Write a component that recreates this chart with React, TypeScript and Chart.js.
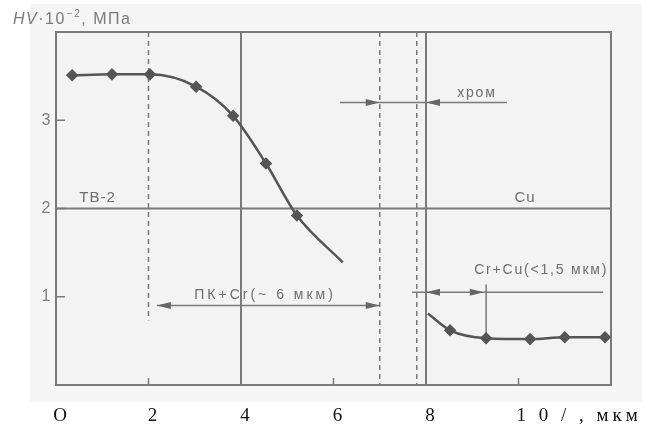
import React, { useEffect, useRef } from "react";
import { Chart, registerables } from "chart.js";

Chart.register(...registerables);

// ---- data ----
const leftDepth = [0.35, 1.21, 2.03, 3.03, 3.83, 4.54, 5.21, 6.2];
const leftHardness = [3.51, 3.52, 3.52, 3.38, 3.05, 2.51, 1.92, 1.39];
const rightDepth = [8.04, 8.52, 9.3, 10.25, 11.0, 11.87];
const rightHardness = [0.81, 0.62, 0.53, 0.52, 0.54, 0.54];

const xTickValues = [0, 2, 4, 6, 8, 10];
const xTickLabels = ["O", "2", "4", "6", "8", "1 0 / , мкм"];
const yTickValues = [3, 2, 1];
const yTickLabels = ["3", "2", "1"];

const solidXLines = [4, 8];
const solidYLines = [2];
const dashedXLines = [7.0, 7.8];
const dashedShortX = 2;
const dashedShortBottom = 0.73;

const regionLabels = ["ТВ-2", "Cu"];
const regionLabelX = [0.9, 10.14];
const regionLabelY = 2.12;

const chromeText = "хром";
const chromeLine = [6.14, 9.75, 3.2];
const chromeTips = [7.0, 8.0];
const chromeTextPos = [9.1, 3.31];

const pkText = "ПК+Cr(~ 6 мкм)";
const pkLine = [2.18, 7.0, 0.9];
const pkTextPos = [4.52, 1.02];

const crcuText = "Cr+Cu(<1,5 мкм)";
const crcuLine = [7.7, 11.83, 1.05];
const crcuTips = [8.0, 9.25];
const crcuMarkX = 9.3;
const crcuMarkTop = 1.14;
const crcuTextPos = [10.49, 1.3];

const GRID = "#7a7a7a";
const TEXT = "#6e6e6e";
const CURVE = "#555555";
const SANS = "'Liberation Sans', Arial, sans-serif";

function arrowHead(ctx: CanvasRenderingContext2D, tipX: number, y: number, dir: number) {
  const len = 14;
  const half = 3.5;
  ctx.beginPath();
  ctx.moveTo(tipX, y);
  ctx.lineTo(tipX - dir * len, y - half);
  ctx.lineTo(tipX - dir * len, y + half);
  ctx.closePath();
  ctx.fill();
}

function spaced(ctx: any, text: string, x: number, y: number, spacing: number) {
  ctx.letterSpacing = spacing + "px";
  ctx.fillText(text, x, y);
  ctx.letterSpacing = "0px";
}

const decor = {
  id: "decor",
  beforeDraw(chart: any) {
    const { ctx, chartArea: a, scales } = chart;
    const xs = scales.x;
    const ys = scales.y;
    const px = (v: number) => xs.getPixelForValue(v);
    const py = (v: number) => ys.getPixelForValue(v);
    ctx.save();
    ctx.fillStyle = "#ffffff";
    ctx.fillRect(0, 0, chart.width, chart.height);
    ctx.fillStyle = "#f5f5f5";
    ctx.fillRect(30, 4, 612, 398);
    ctx.fillStyle = "#f3f3f3";
    ctx.fillRect(a.left, a.top, a.right - a.left, a.bottom - a.top);

    // solid grid lines
    ctx.strokeStyle = GRID;
    ctx.lineWidth = 2;
    solidXLines.forEach((v) => {
      ctx.beginPath();
      ctx.moveTo(px(v), a.top);
      ctx.lineTo(px(v), a.bottom);
      ctx.stroke();
    });
    solidYLines.forEach((v) => {
      ctx.beginPath();
      ctx.moveTo(a.left, py(v));
      ctx.lineTo(a.right, py(v));
      ctx.stroke();
    });

    // dashed lines
    ctx.lineWidth = 1.5;
    ctx.setLineDash([5, 4]);
    dashedXLines.forEach((v) => {
      ctx.beginPath();
      ctx.moveTo(px(v), a.top);
      ctx.lineTo(px(v), a.bottom);
      ctx.stroke();
    });
    ctx.beginPath();
    ctx.moveTo(px(dashedShortX), a.top);
    ctx.lineTo(px(dashedShortX), py(dashedShortBottom));
    ctx.stroke();
    ctx.setLineDash([]);

    // frame
    ctx.lineWidth = 2;
    ctx.strokeRect(a.left, a.top, a.right - a.left, a.bottom - a.top);

    // y inner ticks
    ctx.lineWidth = 1.5;
    yTickValues.forEach((v) => {
      ctx.beginPath();
      ctx.moveTo(a.left, py(v));
      ctx.lineTo(a.left + 9, py(v));
      ctx.stroke();
    });
    // x inner ticks
    [2, 6, 10].forEach((v) => {
      ctx.beginPath();
      ctx.moveTo(px(v), a.bottom);
      ctx.lineTo(px(v), a.bottom - 7);
      ctx.stroke();
    });

    // annotation arrows
    ctx.strokeStyle = GRID;
    ctx.fillStyle = "#666";
    ctx.lineWidth = 1.5;
    let y = py(chromeLine[2]);
    ctx.beginPath();
    ctx.moveTo(px(chromeLine[0]), y);
    ctx.lineTo(px(chromeLine[1]), y);
    ctx.stroke();
    arrowHead(ctx, px(chromeTips[0]), y, 1);
    arrowHead(ctx, px(chromeTips[1]), y, -1);
    y = py(pkLine[2]);
    ctx.beginPath();
    ctx.moveTo(px(pkLine[0]), y);
    ctx.lineTo(px(pkLine[1]), y);
    ctx.stroke();
    arrowHead(ctx, px(pkLine[0]), y, -1);
    arrowHead(ctx, px(pkLine[1]), y, 1);
    y = py(crcuLine[2]);
    ctx.beginPath();
    ctx.moveTo(px(crcuLine[0]), y);
    ctx.lineTo(px(crcuLine[1]), y);
    ctx.stroke();
    arrowHead(ctx, px(crcuTips[0]), y, -1);
    arrowHead(ctx, px(crcuTips[1]), y, 1);
    ctx.beginPath();
    ctx.moveTo(px(crcuMarkX), py(crcuMarkTop));
    ctx.lineTo(px(crcuMarkX), py(rightHardness[2]));
    ctx.stroke();
    ctx.restore();
  },
  afterDraw(chart: any) {
    const { ctx, chartArea: a, scales } = chart;
    const px = (v: number) => scales.x.getPixelForValue(v);
    const py = (v: number) => scales.y.getPixelForValue(v);
    ctx.save();
    ctx.fillStyle = TEXT;
    ctx.textBaseline = "middle";
    ctx.textAlign = "center";
    ctx.font = "14px " + SANS;
    spaced(ctx, chromeText, px(chromeTextPos[0]), py(chromeTextPos[1]), 1.8);
    spaced(ctx, pkText, px(pkTextPos[0]), py(pkTextPos[1]), 3);
    spaced(ctx, crcuText, px(crcuTextPos[0]), py(crcuTextPos[1]), 1.8);
    ctx.font = "15px " + SANS;
    regionLabels.forEach((t, i) => spaced(ctx, t, px(regionLabelX[i]), py(regionLabelY), 1));

    // y tick labels
    ctx.font = "16px " + SANS;
    ctx.fillStyle = "#808080";
    yTickValues.forEach((v, i) => ctx.fillText(yTickLabels[i], a.left - 10, py(v)));

    // y title
    ctx.textAlign = "left";
    ctx.textBaseline = "alphabetic";
    ctx.fillStyle = "#7a7a7a";
    let x = 13;
    const by = 24;
    ctx.letterSpacing = "1.5px";
    ctx.font = "italic 16px " + SANS;
    ctx.fillText("HV", x, by);
    x += ctx.measureText("HV").width;
    ctx.font = "16px " + SANS;
    ctx.fillText("·10", x, by);
    x += ctx.measureText("·10").width + 1;
    ctx.font = "10px " + SANS;
    ctx.fillText("−2", x, by - 7);
    x += ctx.measureText("−2").width;
    ctx.font = "16px " + SANS;
    ctx.fillText(", МПа", x, by);
    ctx.letterSpacing = "0px";

    // x tick labels
    ctx.fillStyle = "#111";
    ctx.font = "19px 'Liberation Serif', 'Times New Roman', serif";
    ctx.textBaseline = "alphabetic";
    const lastIdx = xTickLabels.length - 1;
    xTickValues.forEach((v, i) => {
      if (i === lastIdx) {
        ctx.textAlign = "left";
        spaced(ctx, xTickLabels[i], px(v) - 2, 421, 4);
      } else {
        ctx.textAlign = "center";
        ctx.fillText(xTickLabels[i], px(v) + 4, 421);
      }
    });
    ctx.restore();
  },
};

export default function App() {
  const ref = useRef<HTMLCanvasElement | null>(null);
  useEffect(() => {
    if (!ref.current) return;
    const leftLast = leftDepth.length - 1;
    const chart = new Chart(ref.current, {
      type: "line",
      data: {
        datasets: [
          {
            data: leftDepth.map((x, i) => ({ x, y: leftHardness[i] })),
            borderColor: CURVE,
            backgroundColor: CURVE,
            borderWidth: 2.5,
            cubicInterpolationMode: "monotone",
            pointStyle: "rectRot",
            pointRadius: (c: any) => (c.dataIndex === leftLast ? 0 : 4.5),
            pointBackgroundColor: CURVE,
            pointBorderColor: CURVE,
          },
          {
            data: rightDepth.map((x, i) => ({ x, y: rightHardness[i] })),
            borderColor: CURVE,
            backgroundColor: CURVE,
            borderWidth: 2.5,
            cubicInterpolationMode: "monotone",
            pointStyle: "rectRot",
            pointRadius: (c: any) => (c.dataIndex === 0 ? 0 : 4.5),
            pointBackgroundColor: CURVE,
            pointBorderColor: CURVE,
          },
        ],
      },
      options: {
        responsive: false,
        animation: false,
        layout: { padding: { left: 56, right: 41, top: 32, bottom: 43 } },
        plugins: { legend: { display: false }, tooltip: { enabled: false } },
        scales: {
          x: { type: "linear", min: 0, max: 12, display: false },
          y: { type: "linear", min: 0, max: 4, display: false },
        },
      },
      plugins: [decor],
    } as any);
    return () => chart.destroy();
  }, []);
  return (
    <div style={{ position: "fixed", left: 0, top: 0, width: 652, height: 428 }}>
      <canvas ref={ref} width={652} height={428} style={{ display: "block" }} />
    </div>
  );
}
